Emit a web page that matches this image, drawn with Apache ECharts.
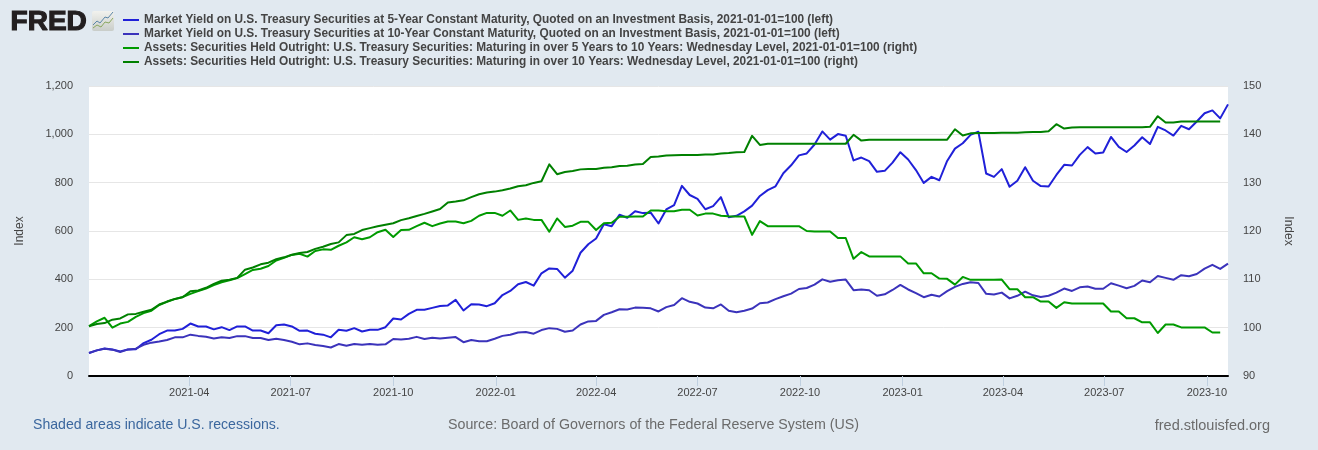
<!DOCTYPE html>
<html><head><meta charset="utf-8">
<style>html,body{margin:0;padding:0;background:#e1e9f0}#c{width:1318px;height:450px}</style>
<script src="https://cdn.jsdelivr.net/npm/echarts@6/dist/echarts.min.js"></script>
</head><body><div id="c"></div>
<script>
const firstDate = '2021-01-01';
const pointCount = 147;
const tickDates = ['2021-04-01','2021-07-01','2021-10-01','2022-01-01','2022-04-01','2022-07-01','2022-10-01','2023-01-01','2023-04-01','2023-07-01','2023-10-01'];
const leftTicks = [0,200,400,600,800,1000,1200];
const rightTicks = [90,100,110,120,130,140,150];

const names = [
 'Market Yield on U.S. Treasury Securities at 5-Year Constant Maturity, Quoted on an Investment Basis, 2021-01-01=100 (left)',
 'Market Yield on U.S. Treasury Securities at 10-Year Constant Maturity, Quoted on an Investment Basis, 2021-01-01=100 (left)',
 'Assets: Securities Held Outright: U.S. Treasury Securities: Maturing in over 5 Years to 10 Years: Wednesday Level, 2021-01-01=100 (right)',
 'Assets: Securities Held Outright: U.S. Treasury Securities: Maturing in over 10 Years: Wednesday Level, 2021-01-01=100 (right)'
];

const yield5 = [95,106,114,110,102,110,111,136,150,173,188,188,195,217,205,205,193,202,190,205,205,188,188,177,210,213,205,187,188,175,171,160,191,187,198,184,191,191,202,238,234,257,274,274,282,290,292,315,271,297,296,289,301,335,352,380,389,374,425,445,443,407,436,510,545,569,628,620,667,655,682,674,676,631,689,707,787,749,733,690,703,740,657,663,681,705,745,769,785,839,872,913,921,958,1012,978,1001,994,892,904,889,845,849,883,926,896,852,799,824,810,890,941,963,998,1011,838,824,856,783,808,864,808,786,784,832,874,871,915,947,921,925,989,948,927,954,988,960,1031,1016,995,1035,1021,1053,1087,1099,1066,1124];

const yield10 = [95,106,113,109,99,110,113,129,138,143,149,160,160,171,166,162,155,160,157,165,165,157,157,149,154,149,142,131,135,128,124,118,132,125,132,129,132,129,131,153,151,154,162,153,158,155,158,161,140,149,144,144,154,166,171,180,182,175,190,198,195,183,188,213,226,228,253,264,276,275,283,282,280,267,285,294,322,307,300,283,280,296,270,264,270,279,301,304,318,330,341,360,364,378,400,390,396,399,355,358,355,332,338,356,377,358,343,326,336,329,351,369,381,388,385,340,337,345,321,332,349,334,327,332,345,362,352,367,370,361,361,384,374,363,373,395,388,414,406,398,417,413,422,444,460,443,465];

const assets5to10 = [100.3,101.3,102.05,100,100.85,101.2,102.25,103,103.5,104.7,105.35,105.9,106.35,107,107.55,108.1,108.8,109.4,109.8,110.25,111.1,111.95,112.2,112.75,113.9,114.45,115.05,115.3,114.7,115.85,116.2,116.1,116.95,117.65,118.7,118.3,118.7,119.75,120.25,118.75,120.2,120.25,121,121.7,121,121.55,121.95,121.95,121.6,122.1,123.15,123.75,123.75,123.15,124.25,122.3,122.6,122.3,122.3,119.85,122.6,120.85,121.1,121.9,121.9,120.2,121.6,121.7,122.95,122.95,123,123,124.25,124.25,124.1,124.1,124.4,124.4,123.2,123.6,123.6,123.15,123.05,123,123,119.2,122.05,121,121,121,121,121,120,119.9,119.9,119.9,118.55,118.55,114.25,115.65,114.75,114.75,114.75,114.75,114.75,113.3,113.3,111.25,111.25,110.15,110.1,108.9,110.5,109.9,109.9,109.9,109.9,109.95,107.95,107.95,106.3,106.3,105.4,105.4,104.1,105.25,105,105,105,105,105,103.35,103.35,101.95,101.95,101.1,101.1,98.9,100.65,100.65,100.05,100.05,100.05,100.05,99,99,null];

const assets10plus = [100.3,100.75,100.95,101.65,101.9,102.75,102.85,103.3,103.7,104.8,105.4,105.95,106.3,107.55,107.7,108.25,109.05,109.7,109.9,110.3,112,112.45,113.1,113.45,114.15,114.55,115.1,115.45,115.65,116.3,116.75,117.3,117.65,119.15,119.4,120.2,120.6,121,121.3,121.6,122.25,122.65,123.1,123.55,124.05,124.55,125.9,126.1,126.35,127,127.6,127.95,128.15,128.45,128.8,129.25,129.45,129.95,130.3,133.8,131.75,132.2,132.4,132.75,132.85,132.85,133.1,133.2,133.45,133.5,133.75,133.85,135.3,135.4,135.6,135.65,135.7,135.7,135.7,135.85,135.85,136.05,136.15,136.3,136.35,139.7,137.8,138.05,138.05,138.05,138.05,138.05,138.05,138.05,138.05,138.05,138.05,138.05,139.9,138.7,138.9,138.9,138.9,138.9,138.9,138.9,138.9,138.9,138.9,138.9,138.9,141.05,139.75,140.2,140.3,140.3,140.3,140.35,140.35,140.35,140.45,140.5,140.5,140.65,142.1,141.2,141.4,141.45,141.45,141.45,141.45,141.45,141.45,141.45,141.45,141.45,141.55,143.75,142.45,142.45,142.65,142.65,142.65,142.65,142.65,142.65,null];

const colors = ['#2020d8','#3b33bb','#009a00','#008000'];
const font = '"Liberation Sans", Arial, sans-serif';

const start = new Date(firstDate + 'T00:00:00').getTime();
const week = 7 * 86400000;
const dates = [];
for (let i = 0; i < pointCount; i++) dates.push(start + i * week);
const tickTimes = tickDates.map(d => new Date(d + 'T00:00:00').getTime());
const pair = arr => arr.map((v, i) => [dates[i], v]);

const chart = echarts.init(document.getElementById('c'), null, {renderer: 'canvas'});
const mk = (i, data, axis) => ({
  name: names[i], type: 'line', data: pair(data), yAxisIndex: axis,
  showSymbol: false, symbol: 'none', connectNulls: false,
  lineStyle: {color: colors[i], width: 2, join: 'round'}, itemStyle: {color: colors[i]},
  emphasis: {disabled: true}
});
chart.setOption({
  animation: false,
  backgroundColor: '#e1e9f0',
  textStyle: {fontFamily: font},
  legend: {
    orient: 'vertical', left: 118, top: 8, itemWidth: 16, itemHeight: 2, itemGap: 0, icon: 'rect',
    selectedMode: false, padding: 5,
    textStyle: {fontFamily: font, fontWeight: 'bold', fontSize: 11.87, color: '#444', lineHeight: 14}
  },
  grid: {show: true, backgroundColor: '#fff', borderWidth: 0, left: 89, right: 90, top: 86, height: 290, containLabel: false},
  xAxis: {
    type: 'time', min: dates[0], max: dates[dates.length - 1],
    axisLine: {show: true, onZero: false, lineStyle: {color: '#000', width: 2}},
    axisTick: {show: true, length: 10, customValues: tickTimes, lineStyle: {color: '#c0d0e0', width: 1}},
    axisLabel: {customValues: tickTimes, formatter: '{yyyy}-{MM}', color: '#444', fontSize: 11, margin: 11, fontFamily: font, hideOverlap: false},
    splitLine: {show: false}
  },
  yAxis: [
    {type: 'value', min: leftTicks[0], max: leftTicks[leftTicks.length - 1], interval: 200, position: 'left',
     name: 'Index', nameLocation: 'middle', nameGap: 63, nameRotate: 90,
     nameTextStyle: {color: '#444', fontSize: 12, fontFamily: font},
     axisLine: {show: false}, axisTick: {show: false},
     axisLabel: {color: '#444', fontSize: 11, margin: 16, padding: [2, 0, 0, 0], fontFamily: font, formatter: v => v.toLocaleString('en-US')},
     splitLine: {show: true, lineStyle: {color: '#e6e6e6', width: 1}}},
    {type: 'value', min: rightTicks[0], max: rightTicks[rightTicks.length - 1], interval: 10, position: 'right',
     name: 'Index', nameLocation: 'middle', nameGap: 54, nameRotate: -90,
     nameTextStyle: {color: '#444', fontSize: 12, fontFamily: font},
     axisLine: {show: false}, axisTick: {show: false},
     axisLabel: {color: '#444', fontSize: 11, margin: 15, padding: [2, 0, 0, 0], fontFamily: font},
     splitLine: {show: false}}
  ],
  series: [mk(0, yield5, 0), mk(1, yield10, 0), mk(2, assets5to10, 1), mk(3, assets10plus, 1)],
  graphic: [
    {type: 'text', left: 10, top: 8, style: {text: 'FRED', font: 'bold 28px ' + font, fill: '#231f20', stroke: '#231f20', lineWidth: 1.2}},
    {type: 'rect', shape: {x: 92, y: 11, width: 22, height: 20, r: 2}, style: {fill: new echarts.graphic.LinearGradient(0,0,0,1,[{offset:0,color:'#f2f2ee'},{offset:1,color:'#c9cdc9'}])}},
    {type: 'polyline', shape: {points: [[93,25],[97,21],[100,23],[105,17],[108,18],[113,12]]}, style: {stroke: '#5b86a8', lineWidth: 1, fill: null}},
    {type: 'polyline', shape: {points: [[93,28],[97,25],[101,27],[105,22],[109,23],[113,18]]}, style: {stroke: '#8aa860', lineWidth: 1, fill: null}},
    {type: 'text', left: 33, top: 418, style: {text: 'Shaded areas indicate U.S. recessions.', font: '14.1px ' + font, fill: '#3b679e'}},
    {type: 'text', left: 448, top: 418, style: {text: 'Source: Board of Governors of the Federal Reserve System (US)', font: '14.25px ' + font, fill: '#6b6b6b'}},
    {type: 'text', right: 48, top: 418, style: {text: 'fred.stlouisfed.org', font: '14.5px ' + font, fill: '#6b6b6b'}}
  ]
});
</script></body></html>
